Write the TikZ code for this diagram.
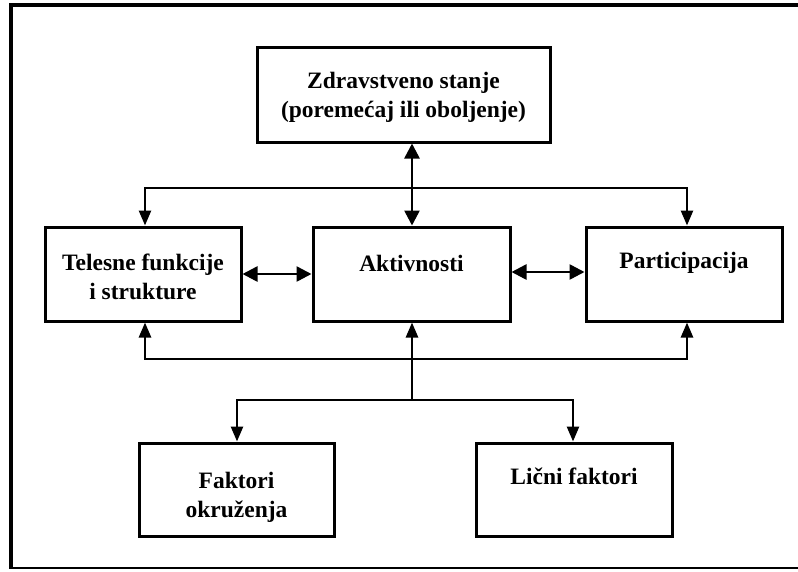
\documentclass[tikz,border=0pt]{standalone}
\usepackage{fontspec}
\setmainfont{Liberation Serif}
\usetikzlibrary{arrows.meta}
\begin{document}
\begin{tikzpicture}[x=1pt,y=-1pt,
  box/.style={draw,line width=3pt,inner sep=0pt},
  lbl/.style={font=\bfseries\fontsize{23.5}{29}\selectfont,align=center,anchor=center},
  conn/.style={line width=2.6pt},
  tip/.style={-{Triangle[length=15pt,width=12pt]}},
  tips/.style={{Triangle[length=15pt,width=15pt]}-{Triangle[length=15pt,width=15pt]}}]
\useasboundingbox (0,0) rectangle (798,571);
\fill[white] (0,0) rectangle (798,571);
% outer frame (open on the right)
\draw[line width=4.5pt] (798,5) -- (11,5) -- (11,569);
\draw[line width=2pt] (11,568) -- (798,568);
% boxes
\draw[box] (257,47) rectangle (550,142);
\draw[box] (45,227) rectangle (241,321);
\draw[box] (313,227) rectangle (510,321);
\draw[box] (586,227) rectangle (782,321);
\draw[box] (139,443) rectangle (334,536);
\draw[box] (476,443) rectangle (672,536);
% labels
\node[lbl] (zdr) at (403.5,97) {Zdravstveno stanje\\(poremećaj ili oboljenje)};
\node[lbl] (tel) at (143,277) {Telesne funkcije\\i strukture};
\node[lbl] (akt) at (411.5,263) {Aktivnosti};
\node[lbl] (par) at (684,263) {Participacija};
\node[lbl] (fak) at (236.5,497) {Faktori\\okruženja};
\node[lbl] (lic) at (574,476) {Lični faktori};
% anchor points on the box edges
\coordinate (zdB) at (412,143.5);
\coordinate (akT) at (412,225.5);
\coordinate (akB) at (412,322.5);
\coordinate (akL) at (311.5,274);
\coordinate (akR) at (511.5,272);
\coordinate (teT) at (145,225.5);
\coordinate (teB) at (145,322.5);
\coordinate (teR) at (242.5,274);
\coordinate (paT) at (687,225.5);
\coordinate (paB) at (687,322.5);
\coordinate (paL) at (584.5,272);
\coordinate (faT) at (237,441.5);
\coordinate (liT) at (573,441.5);
\coordinate (jt) at (412,188);
\coordinate (jb) at (412,359);
\coordinate (jd) at (412,400);
% connectors
\draw[conn,tips] (zdB) -- (akT);
\draw[conn,tip] (jt) -| (teT);
\draw[conn,tip] (jt) -| (paT);
\draw[conn,tips] (teR) -- (akL);
\draw[conn,tips] (akR) -- (paL);
\draw[conn,tip] (jd) -- (akB);
\draw[conn,tip] (jb) -| (teB);
\draw[conn,tip] (jb) -| (paB);
\draw[conn,tip] (jd) -| (faT);
\draw[conn,tip] (jd) -| (liT);
\end{tikzpicture}
\end{document}
